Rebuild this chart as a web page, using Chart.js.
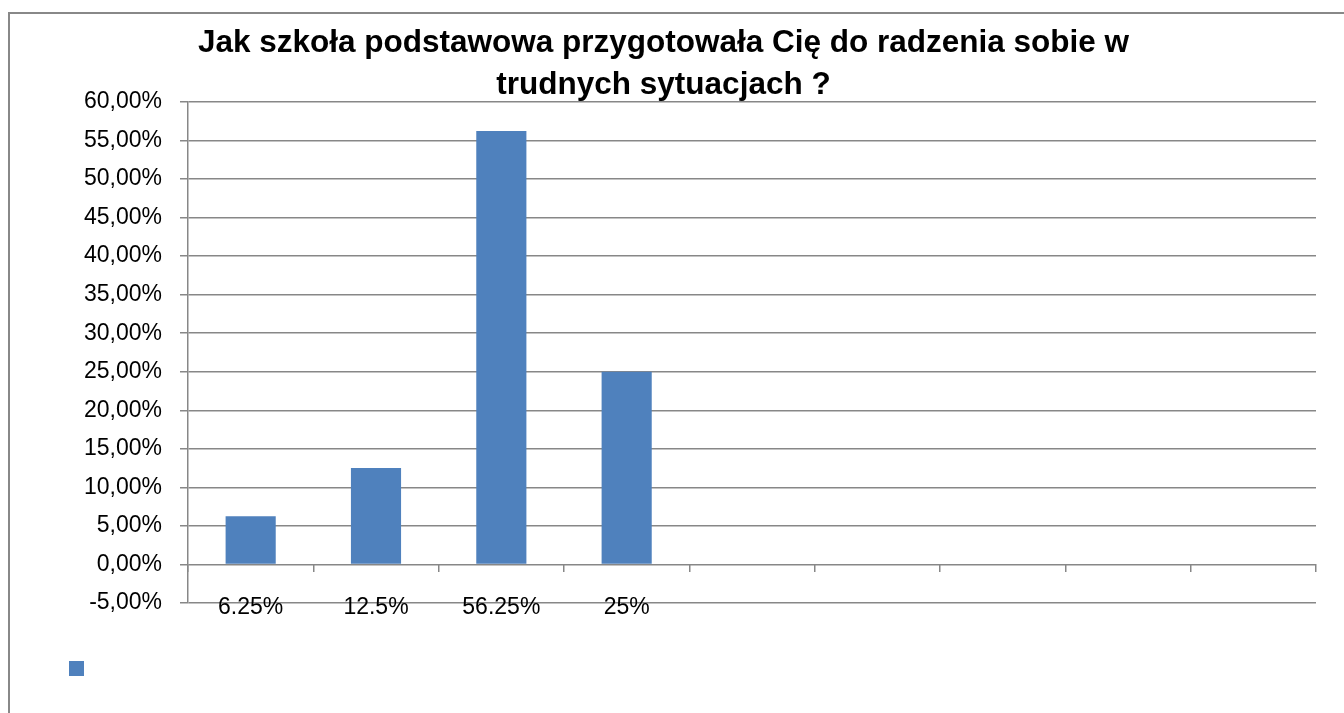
<!DOCTYPE html>
<html>
<head>
<meta charset="utf-8">
<script src="https://cdn.jsdelivr.net/npm/chart.js@4/dist/chart.umd.min.js"></script>
<style>
  html, body { margin: 0; padding: 0; background: #fff; width: 1344px; height: 713px; overflow: hidden; }
  #frame { position: absolute; left: 8px; top: 12px; width: 1400px; height: 800px; border-left: 2px solid #888; border-top: 2px solid #888; box-sizing: border-box; }
  #c { position: absolute; left: 0; top: 0; }
</style>
</head>
<body>
<div id="frame"></div>
<canvas id="c" width="1344" height="713"></canvas>
<script>
const titleLines = ['Jak szkoła podstawowa przygotowała Cię do radzenia sobie w', 'trudnych sytuacjach ?'];
const categories = ['6.25%', '12.5%', '56.25%', '25%', '', '', '', '', ''];
const seriesValues = [6.25, 12.5, 56.25, 25, null, null, null, null, null];
const seriesLabel = '';
const yMin = -5;
const yMax = 60;
const yStep = 5;

const gridColor = '#878787';
const barColor = '#4F81BD';
const fontFamily = "'Liberation Sans', Arial, sans-serif";

new Chart(document.getElementById('c'), {
  type: 'bar',
  data: {
    labels: categories,
    datasets: [{
      label: seriesLabel,
      data: seriesValues,
      backgroundColor: barColor,
      borderWidth: 0,
      categoryPercentage: 1.0,
      barPercentage: 0.4,
      xAxisID: 'x',
      yAxisID: 'y'
    }]
  },
  options: {
    responsive: false,
    animation: false,
    layout: { padding: { left: 11, right: 28, top: 0, bottom: 27 } },
    plugins: {
      title: {
        display: true,
        text: titleLines,
        color: '#000',
        font: { family: fontFamily, size: 31.5, weight: 'bold', lineHeight: 42 / 31.5 },
        padding: { top: 22, bottom: -4 }
      },
      legend: {
        display: true,
        position: 'bottom',
        align: 'start',
        labels: { boxWidth: 15, boxHeight: 15, padding: 58, font: { family: fontFamily, size: 12 } }
      },
      tooltip: { enabled: false }
    },
    scales: {
      x: {
        type: 'category',
        position: { y: yMin },
        offset: true,
        grid: { display: false, drawTicks: false, offset: true },
        border: { display: false },
        ticks: { color: '#000', font: { family: fontFamily, size: 23 }, padding: -9, maxRotation: 0, autoSkip: false }
      },
      x2: {
        type: 'category',
        position: { y: 0 },
        offset: true,
        grid: { display: true, drawOnChartArea: false, drawTicks: true, tickLength: 8, offset: true, color: gridColor, lineWidth: 1.5 },
        border: { display: false },
        ticks: { display: false }
      },
      y: {
        type: 'linear',
        position: 'left',
        min: yMin,
        max: yMax,
        grid: { color: gridColor, lineWidth: 1.5, tickLength: 8, drawTicks: true },
        border: { display: true, color: gridColor, width: 1.5 },
        ticks: {
          stepSize: yStep,
          color: '#000',
          padding: 18,
          font: { family: fontFamily, size: 23 },
          callback: (v) => v.toFixed(2).replace('.', ',') + '%'
        },
        afterFit(scale) { scale.width = 177; }
      }
    }
  }
});
</script>
</body>
</html>
